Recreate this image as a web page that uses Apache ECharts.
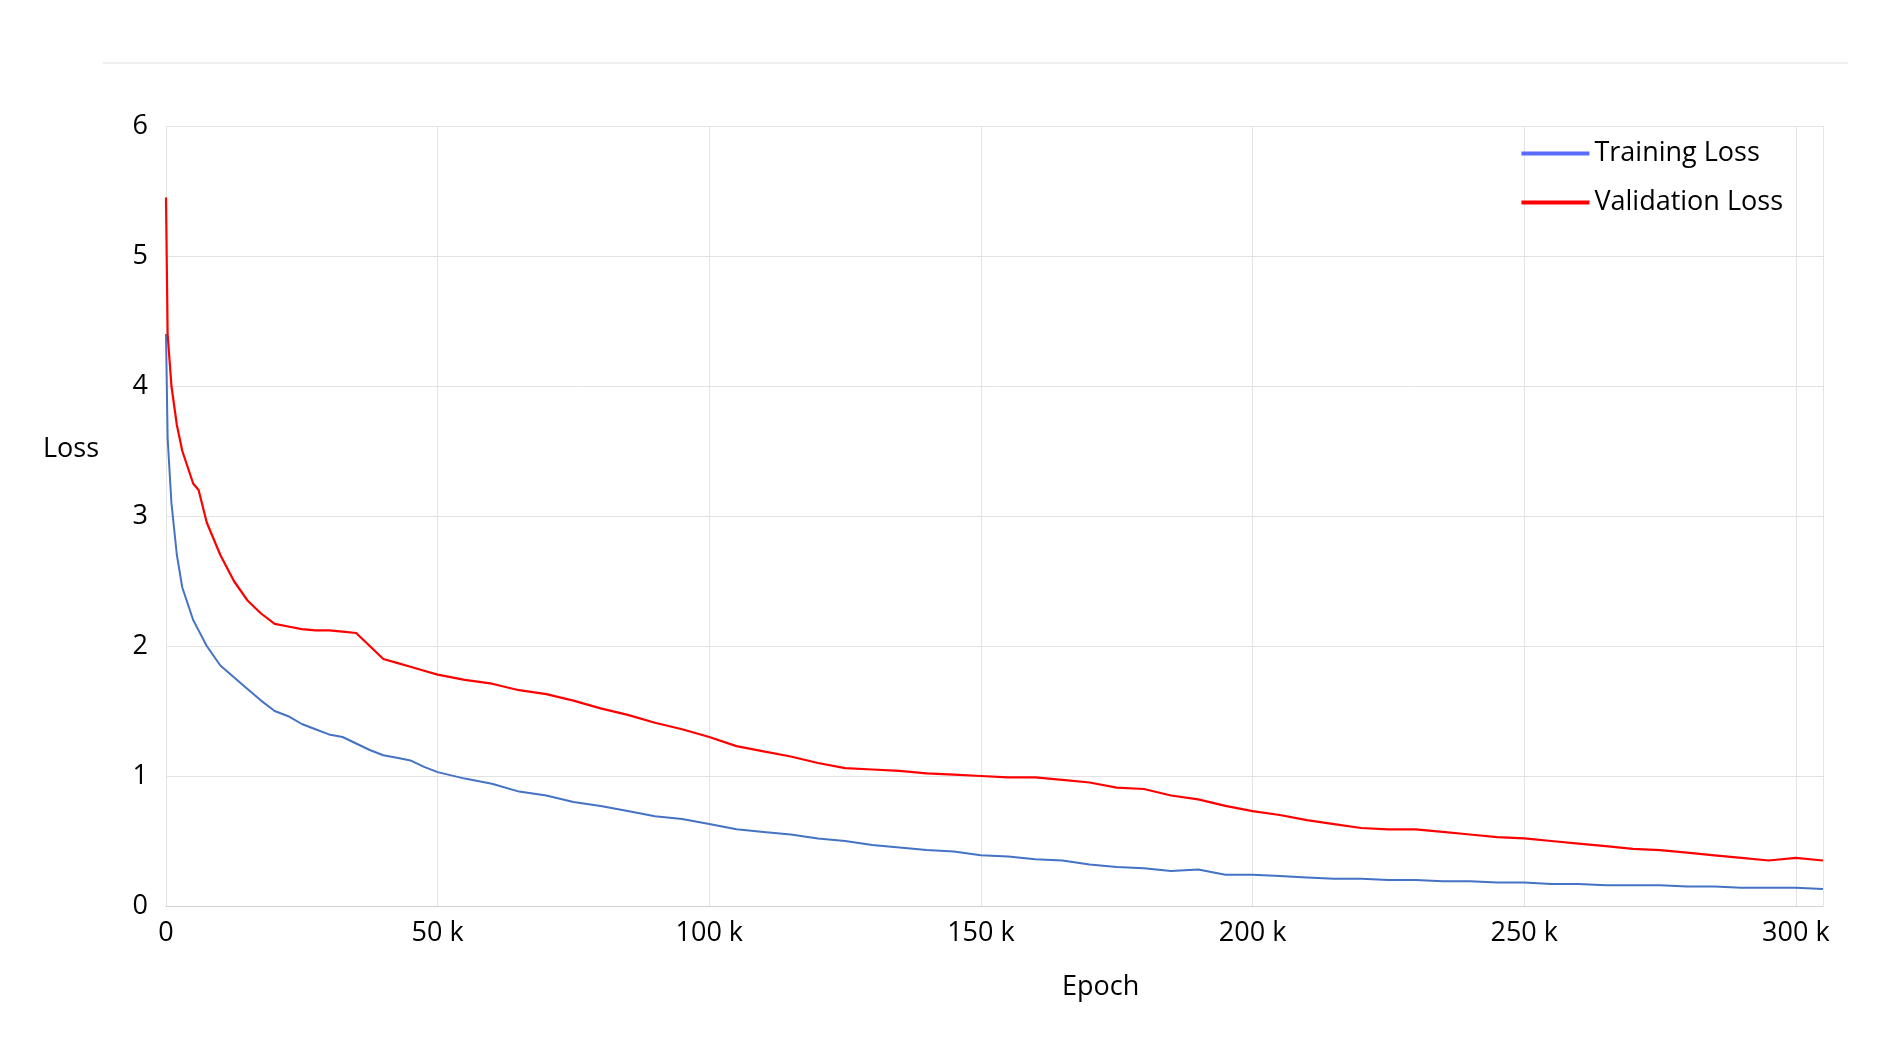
<!DOCTYPE html>
<html><head><meta charset="utf-8">
<script src="https://cdn.jsdelivr.net/npm/echarts@6/dist/echarts.min.js"></script>
<style>html,body{margin:0;padding:0;background:#fff}#c{width:1888px;height:1051px}</style>
</head><body><div id="c"></div>
<script>
const epochs = [0,300,1000,2000,3000,5000,6000,7500,10000,12500,15000,17500,20000,22500,25000,27500,30000,32500,35000,37500,40000,42500,45000,47500,50000,55000,60000,65000,70000,75000,80000,85000,90000,95000,100000,105000,110000,115000,120000,125000,130000,135000,140000,145000,150000,155000,160000,165000,170000,175000,180000,185000,190000,195000,200000,205000,210000,215000,220000,225000,230000,235000,240000,245000,250000,255000,260000,265000,270000,275000,280000,285000,290000,295000,300000,305000];
const trainingLoss = [4.4,3.6,3.1,2.7,2.45,2.2,2.12,2.0,1.85,1.76,1.67,1.58,1.5,1.46,1.4,1.36,1.32,1.3,1.25,1.2,1.16,1.14,1.12,1.07,1.03,0.98,0.94,0.88,0.85,0.8,0.77,0.73,0.69,0.67,0.63,0.59,0.57,0.55,0.52,0.5,0.47,0.45,0.43,0.42,0.39,0.38,0.36,0.35,0.32,0.3,0.29,0.27,0.28,0.24,0.24,0.23,0.22,0.21,0.21,0.2,0.2,0.19,0.19,0.18,0.18,0.17,0.17,0.16,0.16,0.16,0.15,0.15,0.14,0.14,0.14,0.13];
const validationLoss = [5.45,4.4,4.0,3.7,3.5,3.25,3.2,2.95,2.7,2.5,2.35,2.25,2.17,2.15,2.13,2.12,2.12,2.11,2.1,2.0,1.9,1.87,1.84,1.81,1.78,1.74,1.71,1.66,1.63,1.58,1.52,1.47,1.41,1.36,1.3,1.23,1.19,1.15,1.1,1.06,1.05,1.04,1.02,1.01,1.0,0.99,0.99,0.97,0.95,0.91,0.9,0.85,0.82,0.77,0.73,0.7,0.66,0.63,0.6,0.59,0.59,0.57,0.55,0.53,0.52,0.5,0.48,0.46,0.44,0.43,0.41,0.39,0.37,0.35,0.37,0.35];
const yTicks = [0,1,2,3,4,5,6];

const chart = echarts.init(document.getElementById('c'));
const font = '"Open Sans", sans-serif';
chart.setOption({
  animation:false,
  backgroundColor:'#fff',
  graphic:[
    {type:'line',shape:{x1:103,y1:63,x2:1848,y2:63},style:{stroke:'#e0e0e0',lineWidth:1}},
    {type:'text',left:43,top:436,style:{text:'Loss',fontSize:27,fontFamily:font,fill:'#000'}},
    {type:'text',left:1062,top:974,style:{text:'Epoch',fontSize:27,fontFamily:font,fill:'#000'}}
  ],
  legend:{right:100,top:135,orient:'vertical',itemGap:22,itemWidth:68,itemHeight:4,
    textStyle:{fontSize:27,fontFamily:font,color:'#000'},
    data:[{name:'Training Loss',icon:'rect',itemStyle:{color:'#5B6BFF'}},{name:'Validation Loss',icon:'rect'}]},
  grid:{left:166,right:65,top:126,bottom:145},
  xAxis:{type:'value',min:0,max:305000,interval:50000,
    axisLine:{show:true,lineStyle:{color:'#d0d0d0'}},axisTick:{show:false},
    splitLine:{show:true,lineStyle:{color:'#e3e3e3'}},
    axisLabel:{fontSize:27,fontFamily:font,color:'#000',margin:14,showMaxLabel:false,
      formatter:v=>v===0?'0':(v/1000)+' k'}},
  yAxis:{type:'value',min:0,max:6,interval:1,
    axisLine:{show:false},axisTick:{show:false},
    splitLine:{lineStyle:{color:'#e3e3e3'}},
    axisLabel:{fontSize:27,fontFamily:font,color:'#000',margin:18}},
  series:[
    {name:'Training Loss',type:'line',showSymbol:false,color:'#4472C4',lineStyle:{width:2,color:'#4472C4'},
      data:epochs.map((e,i)=>[e,trainingLoss[i]])},
    {name:'Validation Loss',type:'line',showSymbol:false,color:'#FF0000',lineStyle:{width:2.2,color:'#FF0000'},
      data:epochs.map((e,i)=>[e,validationLoss[i]])}
  ]
});
</script></body></html>
